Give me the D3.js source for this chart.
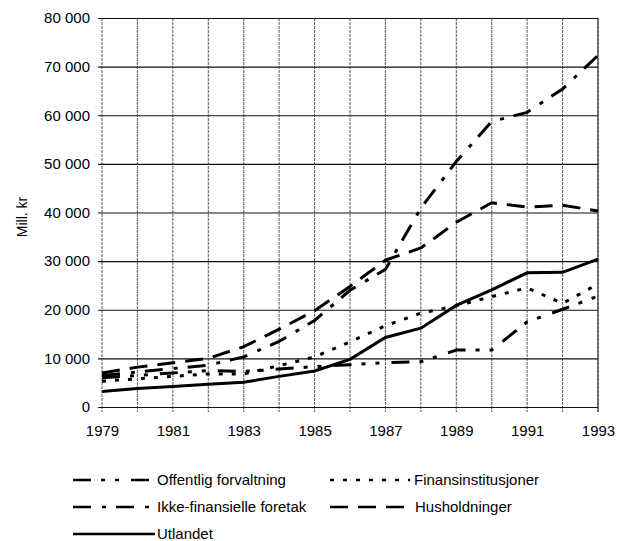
<!DOCTYPE html>
<html>
<head>
<meta charset="utf-8">
<script src="https://cdn.jsdelivr.net/npm/d3@7"></script>
<style>
  body { margin: 0; background: #fff; }
  svg { display: block; font-family: "Liberation Sans", Arial, sans-serif; }
  .tick text { font-size: 15px; fill: #000; }
</style>
</head>
<body>
<svg id="chart" width="630" height="541"></svg>
<script>
var years = [1979, 1980, 1981, 1982, 1983, 1984, 1985, 1986, 1987, 1988, 1989, 1990, 1991, 1992, 1993];

var offentligForvaltning = [6000, 6500, 7000, 7500, 7300, 7800, 8300, 8700, 9100, 9300, 11700, 11700, 17500, 20100, 22800];
var finansinstitusjoner = [5300, 5800, 6300, 6800, 6800, 8500, 10300, 13400, 16700, 19300, 20800, 22700, 24500, 21300, 25300];
var ikkeFinansielle = [6500, 7200, 7900, 8600, 10300, 13500, 17800, 24000, 28300, 40900, 50500, 58700, 60600, 65400, 72300];
var husholdninger = [7000, 8200, 9100, 10000, 12400, 16000, 19800, 24800, 30200, 32700, 38000, 42000, 41100, 41500, 40300];
var utlandet = [3200, 3800, 4200, 4700, 5100, 6300, 7400, 9800, 14300, 16200, 20900, 24100, 27600, 27700, 30400];

var yTicks = [0, 10000, 20000, 30000, 40000, 50000, 60000, 70000, 80000];
var xTickYears = [1979, 1981, 1983, 1985, 1987, 1989, 1991, 1993];

var series = [
  {name: 'Offentlig forvaltning', values: offentligForvaltning, dash: '18,10,4,10,4,12'},
  {name: 'Finansinstitusjoner', values: finansinstitusjoner, dash: '4,9'},
  {name: 'Ikke-finansielle foretak', values: ikkeFinansielle, dash: '18,11,4,10'},
  {name: 'Husholdninger', values: husholdninger, dash: '18,10'},
  {name: 'Utlandet', values: utlandet, dash: null}
];

var svg = d3.select('#chart');
var margin = {left: 102, right: 32, top: 18, bottom: 134};
var width = 630 - margin.left - margin.right;
var height = 541 - margin.top - margin.bottom;

var x = d3.scaleLinear().domain([1979, 1993]).range([0, width]);
var y = d3.scaleLinear().domain([0, 80000]).range([height, 0]);

var g = svg.append('g').attr('transform', 'translate(' + margin.left + ',' + margin.top + ')');

// vertical grid, one line per year, running a bit below the axis
g.append('g').selectAll('line').data(years).enter().append('line')
  .attr('x1', x).attr('x2', x)
  .attr('y1', 0).attr('y2', height + 5)
  .attr('stroke', '#444').attr('stroke-width', 0.9)
  .attr('stroke-dasharray', '3,1');

// horizontal grid + y axis labels
var fmt = function(d) { return d3.format(',')(d).replace(/,/g, '\u00a0'); };
var yAxis = g.append('g')
  .call(d3.axisLeft(y).tickValues(yTicks).tickSize(-width - 4).tickPadding(8).tickFormat(fmt))
  .attr('transform', 'translate(-4,0)');
yAxis.select('.domain').remove();
yAxis.selectAll('.tick line').attr('stroke', '#111').attr('stroke-width', 1.1);

var xAxis = g.append('g')
  .attr('transform', 'translate(0,' + height + ')')
  .call(d3.axisBottom(x).tickValues(xTickYears).tickSize(0).tickPadding(18).tickFormat(d3.format('d')));
xAxis.select('.domain').remove();

// right border at 1993
g.append('line')
  .attr('x1', width).attr('x2', width).attr('y1', 0).attr('y2', height + 5)
  .attr('stroke', '#222').attr('stroke-width', 1);

svg.append('text')
  .attr('transform', 'translate(27,217) rotate(-90)')
  .attr('text-anchor', 'middle')
  .style('font-size', '14px')
  .text('Mill. kr');

var line = d3.line()
  .x(function(d, i) { return x(years[i]); })
  .y(function(d) { return y(d); });

g.selectAll('.series').data(series).enter().append('path')
  .attr('class', 'series')
  .attr('d', function(s) { return line(s.values); })
  .attr('fill', 'none')
  .attr('stroke', '#000')
  .attr('stroke-width', 3)
  .attr('stroke-dasharray', function(s) { return s.dash; });

// legend
var legendPos = [
  {x: 73, y: 480, len: 77, tx: 157},
  {x: 330, y: 480, len: 80, tx: 414},
  {x: 73, y: 507, len: 77, tx: 157},
  {x: 330, y: 507, len: 75, tx: 415},
  {x: 73, y: 534, len: 82, tx: 157}
];

var legend = svg.append('g').selectAll('g').data(series).enter().append('g');
legend.append('line')
  .attr('x1', function(s, i) { return legendPos[i].x; })
  .attr('x2', function(s, i) { return legendPos[i].x + legendPos[i].len; })
  .attr('y1', function(s, i) { return legendPos[i].y; })
  .attr('y2', function(s, i) { return legendPos[i].y; })
  .attr('stroke', '#000')
  .attr('stroke-width', 2.6)
  .attr('stroke-dasharray', function(s) { return s.dash; });
legend.append('text')
  .attr('x', function(s, i) { return legendPos[i].tx; })
  .attr('y', function(s, i) { return legendPos[i].y; })
  .attr('dy', '0.35em')
  .style('font-size', '15px')
  .text(function(s) { return s.name; });
</script>
</body>
</html>
